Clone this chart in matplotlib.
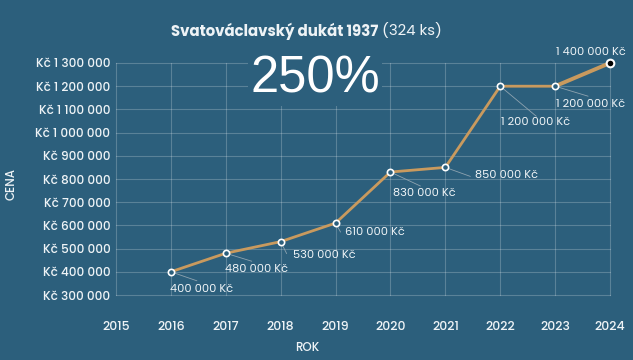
import matplotlib
matplotlib.use("Agg")
import matplotlib.pyplot as plt

# ---- data ----
years = [2016, 2017, 2018, 2019, 2020, 2021, 2022, 2023, 2024]
prices = [400000, 480000, 530000, 610000, 830000, 850000, 1200000, 1200000, 1300000]
point_labels = ["400 000 Kč", "480 000 Kč", "530 000 Kč", "610 000 Kč", "830 000 Kč",
                "850 000 Kč", "1 200 000 Kč", "1 200 000 Kč", "1 400 000 Kč"]
x_ticks = [2015, 2016, 2017, 2018, 2019, 2020, 2021, 2022, 2023, 2024]
y_ticks = [300000, 400000, 500000, 600000, 700000, 800000, 900000, 1000000, 1100000, 1200000, 1300000]
title_bold = "Svatováclavský dukát 1937"
title_light = " (324 ks)"
big_text = "250%"

# ---- layout (pixel offsets: leader end, label anchor) ----
leader_ends = [(26, -9), (26, -8), (6, -12), (5, -9), (30, -14), (25, -9), (36, -30), (33, -10), None]
label_pos = [(-1, -18), (-1, -16), (12, -14), (9, -9), (3, -21), (30, -8), (1, -36), (1, -18), (-54, 10)]

BG = "#2c5f7c"
FG = "#eef3f6"
LINE = "#c99a5e"
FONT = ["Poppins", "Inter", "DejaVu Sans"]

plt.rcParams["font.family"] = FONT
fig = plt.figure(figsize=(6.33, 3.6), dpi=100, facecolor=BG)
ax = fig.add_axes([116/633, 1 - 295/360, (610 - 116)/633, (295 - 63)/360])
ax.set_facecolor(BG)

ax.set_xlim(2015, 2024)
ax.set_ylim(300000, 1300000)
ax.set_xticks(x_ticks)
ax.set_xticklabels([str(v) for v in x_ticks])
ax.set_yticks(y_ticks)


def fmt(v):
    s = f"{v:,}".replace(",", " ")
    return "Kč " + s


ax.set_yticklabels([fmt(v) for v in y_ticks])
ax.tick_params(axis="both", length=0, colors=FG)
ax.tick_params(axis="x", pad=19, labelsize=9.0)
ax.tick_params(axis="y", pad=4, labelsize=8.7)
for lab in ax.get_xticklabels() + ax.get_yticklabels():
    lab.set_fontweight("medium")
for s in ax.spines.values():
    s.set_visible(False)
ax.grid(True, color="white", alpha=0.22, linewidth=0.8)
for gl in ax.get_xgridlines() + ax.get_ygridlines():
    gl.set_clip_on(False)
ax.set_axisbelow(True)

# line
ax.plot(years[:-1], prices[:-1], color=LINE, linewidth=2.0, zorder=3)
ax.plot(years[-2:], prices[-2:], color=LINE, linewidth=2.8, zorder=3, clip_on=False)
ax.plot(years[:-1], prices[:-1], linestyle="none", marker="o", markersize=4.5,
        markerfacecolor=BG, markeredgecolor="white", markeredgewidth=1.2, zorder=4)
ax.plot(years[-1:], prices[-1:], linestyle="none", marker="o", markersize=5.5,
        markerfacecolor="black", markeredgecolor="white", markeredgewidth=1.5, zorder=5,
        clip_on=False)

# annotations
for x, y, lab, le, lp in zip(years, prices, point_labels, leader_ends, label_pos):
    if le is not None:
        ax.annotate("", xy=(x, y), xytext=le, textcoords="offset pixels",
                    arrowprops=dict(arrowstyle="-", color="#8ea3b0", lw=0.6,
                                    shrinkA=0, shrinkB=2.5), zorder=2)
    ax.annotate(lab, xy=(x, y), xytext=lp, textcoords="offset pixels",
                ha="left", va="center", color=FG, fontsize=8.2, zorder=6,
                annotation_clip=False)

# axis titles
fig.text(12/633, 1 - 184/360, "CENA", rotation=90, color=FG, fontsize=8.5,
         fontweight="medium", ha="center", va="center")
fig.text(307/633, 1 - 348/360, "ROK", color=FG, fontsize=8.5, fontweight="medium",
         ha="center", va="center")

# title
t1 = fig.text(171/633, 1 - 31/360, title_bold, color=FG, fontsize=10.75,
              fontweight="bold", ha="left", va="center")
fig.canvas.draw()
bb = t1.get_window_extent()
fig.text(bb.x1 / fig.bbox.width, 1 - 31/360, title_light, color=FG, fontsize=10.75,
         fontweight="normal", ha="left", va="center")

# big percentage
fig.text(315/633, 1 - 79/360, big_text, color="white", fontsize=36.5,
         family=["Liberation Sans", "DejaVu Sans"], ha="center", va="center",
         bbox=dict(facecolor=BG, edgecolor="none", pad=2), zorder=10)

fig.savefig("out.png", dpi=100, facecolor=BG)
